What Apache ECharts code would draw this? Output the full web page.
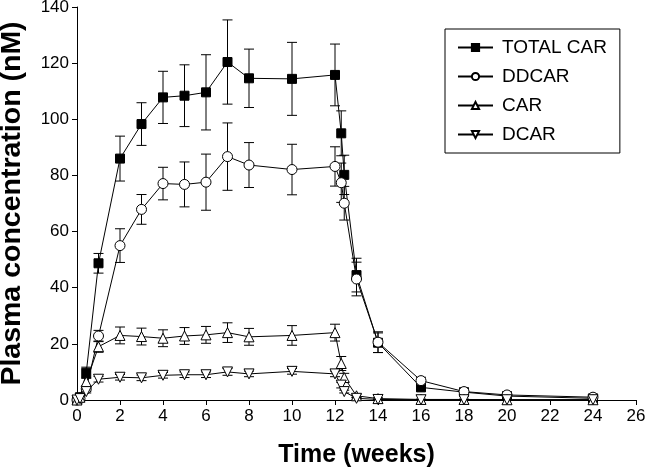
<!DOCTYPE html>
<html>
<head>
<meta charset="utf-8">
<script src="https://cdn.jsdelivr.net/npm/echarts@6/dist/echarts.min.js"></script>
<style>html,body{margin:0;padding:0;background:#fff}#c{width:646px;height:468px}</style>
</head>
<body>
<div id="c"></div>
<script>
var times = [0, 0.14, 0.43, 1, 2, 3, 4, 5, 6, 7, 8, 10, 12, 12.29, 12.43, 13, 14, 16, 18, 20, 24];
var totalCar = [0, 1, 9.7, 48.7, 86, 98.3, 107.8, 108.4, 109.6, 120.4, 114.6, 114.4, 115.8, 95, 80.2, 44.5, 20.4, 4.5, 2.8, 1.4, 0.6];
var totalCarSd = [0, 0.5, 2, 3.5, 8, 7.6, 9.3, 11, 13.4, 15, 10.4, 13, 11, 8, 7, 6, 3.5, 1.2, 0.8, 0.5, 0.3];
var ddcar = [0, 0.5, 4, 22.8, 55, 67.9, 77.1, 76.8, 77.6, 86.7, 83.7, 82.1, 83.2, 77.4, 70.1, 43.1, 20.6, 6.9, 3, 1.8, 1];
var ddcarSd = [0, 0.3, 1, 2, 6, 5.3, 5.8, 8, 10, 12, 8, 9, 7, 7, 6, 6, 3.7, 1.2, 0.8, 0.5, 0.3];
var car = [0, 1, 6.5, 19, 23, 22.6, 22, 22.8, 23.2, 24, 22.5, 23, 24, 13, 8, 1.5, 0.5, 0.2, 0.2, 0.1, 0.1];
var carSd = [0, 0.3, 1.5, 2, 3, 3, 3, 3, 3, 3.5, 3, 3.5, 3, 2.5, 1.5, 0.5, 0.3, 0.1, 0.1, 0.1, 0.1];
var dcar = [0, 0.5, 3, 7.4, 8.1, 7.9, 8.8, 9, 9, 10, 9.3, 10.2, 9.3, 5.3, 3, 0.6, 0.2, 0.1, 0.1, 0.1, 0.1];
var dcarSd = [0, 0.2, 0.5, 1, 1, 1, 1, 1, 1, 1.2, 1, 1, 1, 1, 0.5, 0.3, 0.1, 0.1, 0.1, 0.1, 0.1];
var seriesNames = ['TOTAL CAR', 'DDCAR', 'CAR', 'DCAR'];
var xTicks = {min: 0, max: 26, interval: 2};
var yTicks = {min: 0, max: 140, interval: 20};

var FONT = 'Liberation Sans, Arial, sans-serif';
var chart = echarts.init(document.getElementById('c'), null, {renderer: 'canvas'});

function pts(vals) { return times.map(function (t, i) { return [t, vals[i]]; }); }
function errs(vals, sd) { return times.map(function (t, i) { return [t, vals[i] - sd[i], vals[i] + sd[i]]; }); }

function errSeries(vals, sd) {
  return {
    type: 'custom',
    data: errs(vals, sd),
    encode: {x: 0, y: [1, 2]},
    z: 1,
    silent: true,
    renderItem: function (params, api) {
      var x = api.value(0);
      var lo = api.coord([x, api.value(1)]);
      var hi = api.coord([x, api.value(2)]);
      var w = 5;
      var st = {stroke: '#000', lineWidth: 1};
      return {
        type: 'group',
        children: [
          {type: 'line', shape: {x1: lo[0], y1: lo[1], x2: hi[0], y2: hi[1]}, style: st},
          {type: 'line', shape: {x1: lo[0] - w, y1: lo[1], x2: lo[0] + w, y2: lo[1]}, style: st},
          {type: 'line', shape: {x1: hi[0] - w, y1: hi[1], x2: hi[0] + w, y2: hi[1]}, style: st}
        ]
      };
    }
  };
}

function lineSeries(name, vals, symbol, fill, rot, size) {
  return {
    name: name,
    type: 'line',
    data: pts(vals),
    symbol: symbol,
    symbolSize: size,
    symbolRotate: rot,
    showAllSymbol: true,
    z: 3,
    lineStyle: {color: '#000', width: 1},
    itemStyle: {color: fill, borderColor: '#000', borderWidth: 1},
    emphasis: {disabled: true},
    animation: false
  };
}

var option = {
  animation: false,
  textStyle: {fontFamily: FONT},
  grid: {left: 77, top: 7, right: 10, bottom: 68, containLabel: false, outerBoundsMode: 'none'},
  legend: {
    orient: 'vertical',
    left: 445,
    top: 29,
    padding: [9, 13, 9, 12],
    itemGap: 10,
    itemWidth: 35,
    itemHeight: 9,
    borderColor: '#000',
    borderWidth: 1,
    data: seriesNames,
    textStyle: {fontSize: 19, color: '#000', fontFamily: FONT, padding: [0, 0, 0, 4]}
  },
  xAxis: {
    type: 'value',
    min: xTicks.min, max: xTicks.max, interval: xTicks.interval,
    name: 'Time (weeks)',
    nameLocation: 'middle',
    nameGap: 43,
    nameTextStyle: {fontSize: 25, fontWeight: 'bold', color: '#000', fontFamily: FONT},
    axisLine: {onZero: false, lineStyle: {color: '#000', width: 1}},
    axisTick: {show: true, inside: false, length: 5, lineStyle: {color: '#000'}},
    axisLabel: {fontSize: 17, color: '#000', margin: 8, fontFamily: FONT},
    splitLine: {show: false}
  },
  yAxis: {
    type: 'value',
    min: yTicks.min, max: yTicks.max, interval: yTicks.interval,
    name: 'Plasma concentration (nM)',
    nameLocation: 'middle',
    nameGap: 50,
    nameRotate: 90,
    nameTextStyle: {fontSize: 28.5, fontWeight: 'bold', color: '#000', fontFamily: FONT},
    axisLine: {show: true, lineStyle: {color: '#000', width: 1}},
    axisTick: {show: true, inside: false, length: 5, lineStyle: {color: '#000'}},
    axisLabel: {fontSize: 17, color: '#000', margin: 8, fontFamily: FONT},
    splitLine: {show: false}
  },
  series: [
    errSeries(totalCar, totalCarSd),
    errSeries(ddcar, ddcarSd),
    errSeries(car, carSd),
    errSeries(dcar, dcarSd),
    lineSeries(seriesNames[0], totalCar, 'rect', '#000', 0, 9),
    lineSeries(seriesNames[1], ddcar, 'circle', '#fff', 0, 10),
    lineSeries(seriesNames[2], car, 'triangle', '#fff', 0, 10),
    lineSeries(seriesNames[3], dcar, 'triangle', '#fff', 180, 10)
  ]
};
chart.setOption(option);
</script>
</body>
</html>
